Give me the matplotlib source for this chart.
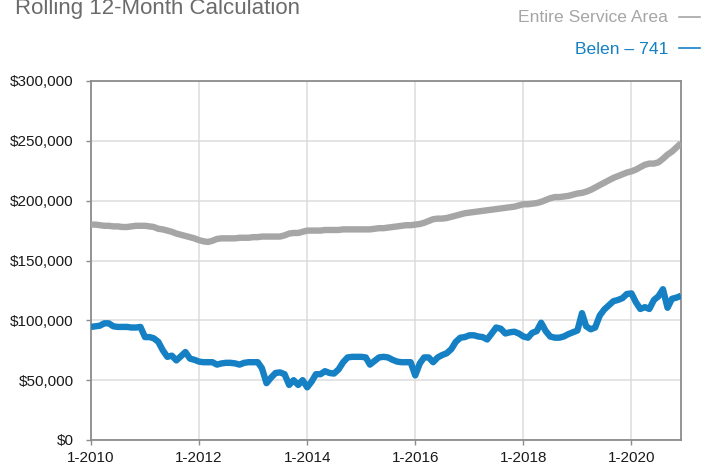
import matplotlib
matplotlib.use("Agg")
import matplotlib.pyplot as plt
import numpy as np
import pandas as pd
from matplotlib import font_manager

months = pd.date_range("2010-01-01", "2020-12-01", freq="MS")

entire_service_area = [
    180, 180, 179.5, 179, 179, 178.5, 178.5, 178, 178, 178.5, 179, 179,
    179, 178.5, 178, 176.5, 176, 175, 174, 172.5, 171.5, 170.5, 169.5, 168.5,
    167, 166, 165.5, 166.5, 168, 168.5, 168.5, 168.5, 168.5, 169, 169, 169,
    169.5, 169.5, 170, 170, 170, 170, 170, 171, 172.5, 173, 173, 174,
    175, 175, 175, 175, 175.5, 175.5, 175.5, 175.5, 176, 176, 176, 176,
    176, 176, 176, 176.5, 177, 177, 177.5, 178, 178.5, 179, 179.5, 179.5,
    180, 180.5, 181.5, 183, 184.5, 185, 185, 185.5, 186.5, 187.5, 188.5, 189.5,
    190, 190.5, 191, 191.5, 192, 192.5, 193, 193.5, 194, 194.5, 195, 196,
    197, 197, 197.5, 198, 199, 200.5, 202, 203, 203, 203.5, 204, 205,
    206, 206.5, 207.5, 209, 211, 213, 215, 217, 219, 220.5, 222, 223.5,
    224.5, 226, 228, 230, 231, 231, 232, 235, 238.5, 241, 244.5, 248,
]

belen_741 = [
    94.5, 95, 95.5, 97.5, 97.5, 95, 94.5, 94.5, 94.5, 94, 94, 94.5,
    86, 86, 85, 82, 75, 69.5, 70.5, 66.5, 70, 73.5, 68, 67,
    65.5, 65, 65, 65, 63, 64, 64.5, 64.5, 64, 63, 64.5, 65,
    65, 65, 60, 47.5, 52, 56, 56.5, 55, 46, 50, 46, 50,
    44, 49, 55, 55, 57.5, 56, 55.5, 59, 65, 69, 69.5, 69.5,
    69.5, 69, 63, 66, 69, 69.5, 69, 67, 65.5, 65, 65, 65,
    54, 64, 69, 69, 65, 69, 71, 72.5, 76, 82, 85.5, 86,
    87.5, 87.5, 86.5, 86, 84, 89, 94, 93, 89, 90, 90.5, 89,
    86.5, 85.5, 89.5, 91, 98, 91, 86.5, 85.5, 85.5, 86.5, 88.5, 90,
    91.5, 106, 95, 92.5, 94, 104, 109, 112.5, 116, 117, 118.5, 122,
    122.5, 115, 109.5, 111, 109.5, 117, 120, 126, 110.5, 118, 119, 120.5,
]

y_ticks = [0, 50000, 100000, 150000, 200000, 250000, 300000]
y_labels = ["$0", "$50,000", "$100,000", "$150,000", "$200,000", "$250,000", "$300,000"]
x_tick_years = [2010, 2012, 2014, 2016, 2018, 2020]
x_labels = ["1-2010", "1-2012", "1-2014", "1-2016", "1-2018", "1-2020"]

title = "Rolling 12-Month Calculation"
legend_gray = "Entire Service Area"
legend_blue = "Belen \u2013 741"

GRAY = "#A6A6A6"
BLUE = "#1580C3"
SPINE = "#8C8C8C"
GRID = "#DCDCDC"

names = {f.name for f in font_manager.fontManager.ttflist}
narrow = "Liberation Sans Narrow" if "Liberation Sans Narrow" in names else "Liberation Sans"
plt.rcParams["font.family"] = ["Liberation Sans", "DejaVu Sans"]

fig = plt.figure(figsize=(7.01, 4.66), dpi=100)
ax = fig.add_axes([91 / 701, 1 - 440 / 466, 590 / 701, 359 / 466])

ax.plot(months, np.array(entire_service_area) * 1000, color=GRAY, lw=4.6,
        solid_capstyle="butt", solid_joinstyle="round", zorder=3)
ax.plot(months, np.array(belen_741) * 1000, color=BLUE, lw=4.6,
        solid_capstyle="butt", solid_joinstyle="round", zorder=4)

ax.set_ylim(0, 300000)
ax.set_xlim(months[0], months[-1])
ax.set_yticks(y_ticks)
ax.set_yticklabels(y_labels)
ax.set_xticks([pd.Timestamp(f"{y}-01-01") for y in x_tick_years])
ax.set_xticklabels(x_labels)

ax.grid(True, color=GRID, lw=1.1, zorder=0)
ax.set_axisbelow(True)
for s in ax.spines.values():
    s.set_color(SPINE)
    s.set_linewidth(1.3)
ax.tick_params(axis="both", colors=SPINE, length=3.6, width=1, labelcolor="#1a1a1a",
               labelsize=11)
ax.tick_params(axis="y", pad=9)
ax.tick_params(axis="x", pad=4)

fig.text(15 / 701, 1 - 14 / 466, title, family=[narrow, "DejaVu Sans"], fontsize=16,
         color="#6b6b6b", ha="left", va="baseline")
fig.text(668 / 701, 1 - 17 / 466, legend_gray, family=[narrow, "DejaVu Sans"], fontsize=12.6,
         color=GRAY, ha="right", va="center")
fig.text(668 / 701, 1 - 49 / 466, legend_blue, family=[narrow, "DejaVu Sans"], fontsize=12.6,
         color=BLUE, ha="right", va="center")
fig.add_artist(plt.Line2D([679 / 701, 700 / 701], [1 - 17 / 466, 1 - 17 / 466],
                          transform=fig.transFigure, color=GRAY, lw=1.2))
fig.add_artist(plt.Line2D([679 / 701, 700 / 701], [1 - 48 / 466, 1 - 48 / 466],
                          transform=fig.transFigure, color=BLUE, lw=1.2))

fig.savefig("out.png", dpi=100)
